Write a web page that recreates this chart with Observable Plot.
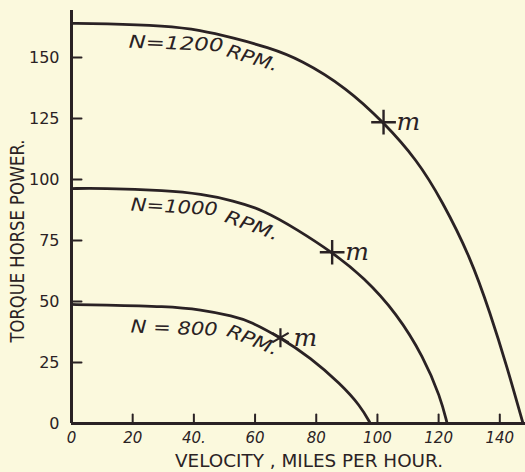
<!DOCTYPE html>
<html><head><meta charset="utf-8">
<script src="https://cdn.jsdelivr.net/npm/d3@7"></script>
<script src="https://cdn.jsdelivr.net/npm/@observablehq/plot@0.6"></script>
<style>
html,body{margin:0;padding:0;background:#fbf9dd;}
#chart{width:525px;height:472px;position:relative;}
</style></head><body><div id="chart"></div>
<script>
// ---- data ----
const velocity1200 = [0, 10, 31, 42, 53, 64, 75, 90, 102, 113, 121.1, 130.4, 136.9, 142.4, 147.6];
const power1200    = [164, 164, 163, 161.3, 158, 154.3, 149.2, 137.5, 123.5, 108, 91.4, 68.2, 45.1, 23.1, 0];
const velocity1000 = [0, 9.5, 31.3, 42.2, 52.9, 62.7, 73.8, 85.2, 95.5, 106.4, 115.1, 120.6, 122.8];
const power1000    = [96.3, 96.5, 95.5, 94.1, 91.4, 87.5, 79.5, 70.2, 60, 45, 27.2, 10.8, 0];
const velocity800  = [0, 9.5, 31.3, 42.2, 52.9, 58.5, 68.3, 78.1, 87.9, 94.4, 97.7];
const power800     = [48.8, 48.6, 48, 46.7, 44.0, 41.8, 35.2, 27, 16.3, 7.3, 0];
const markerRpm    = [1200, 1000, 800];
const markerVel    = [102, 85.2, 68.3];
const markerPow    = [123.5, 70.2, 35.2];
const markerText   = ["m", "m", "m"];
const xTicks = [0, 20, 40, 60, 80, 100, 120, 140];
const xTickLabels = ["0", "20", "40.", "60", "80", "100", "120", "140"];
const yTicks = [0, 25, 50, 75, 100, 125, 150];
const yTickLabels = ["0", "25", "50", "75", "100", "125", "150"];
const labelText = ["N=1200", "RPM.", "N=1000", "RPM.", "N = 800", "RPM."];
const labelVel  = [18.6, 50.3, 19.3, 49.7, 19.3, 50.3];
const labelPow  = [154, 150.6, 87.3, 82.8, 37.3, 36.1];
const xTitle = "VELOCITY , MILES PER HOUR.";
const yTitle = "TORQUE HORSE POWER.";

// ---- build tables ----
const curves = [
  ...velocity1200.map((v, i) => ({rpm: 1200, v, p: power1200[i]})),
  ...velocity1000.map((v, i) => ({rpm: 1000, v, p: power1000[i]})),
  ...velocity800.map((v, i) => ({rpm: 800, v, p: power800[i]}))
];
const markers = markerRpm.map((r, i) => ({rpm: r, v: markerVel[i], p: markerPow[i], t: markerText[i]}));
const labelRot = [2, 17, 3, 20, 2, 22];
const labelLen = [95, 53, 87, 56, 87, 54];
const labels = labelText.map((t, i) => ({t, v: labelVel[i], p: labelPow[i], rot: labelRot[i], len: labelLen[i]}));

const ink = "#2a2224";
const W = 525, H = 472, ML = 71, MR = 0, MT = 10, MB = 49;
const xMax = 148.4, yMax = 169.3;
// inward tick lengths: pixels converted to data units
const xTickLen = 9 * yMax / (H - MT - MB);
const yTickLen = 10 * xMax / (W - ML - MR);
// each tick as a tiny two-point segment
const tickSegs = [
  ...xTicks.filter(d => d > 0).flatMap(d => [{k: "x" + d, v: d, p: 0}, {k: "x" + d, v: d, p: xTickLen}]),
  ...yTicks.filter(d => d > 0).flatMap(d => [{k: "y" + d, v: 0, p: d}, {k: "y" + d, v: yTickLen, p: d}])
];

const chart = Plot.plot({
  width: W, height: H,
  marginLeft: ML, marginRight: MR, marginTop: MT, marginBottom: MB,
  style: {background: "transparent", color: ink, fontFamily: "DejaVu Sans"},
  x: {domain: [0, xMax], axis: null},
  y: {domain: [0, yMax], axis: null},
  marks: [
    Plot.axisX({ticks: xTicks, tickSize: 0, tickPadding: 9, fill: ink,
      tickFormat: d => xTickLabels[xTicks.indexOf(d)], fontSize: 15, fontStyle: "italic", label: null}),
    Plot.axisY({ticks: yTicks, tickSize: 0, tickPadding: 12, fill: ink,
      tickFormat: d => yTickLabels[yTicks.indexOf(d)], fontSize: 16, label: null}),
    Plot.ruleX([0], {stroke: ink, strokeWidth: 3}),
    Plot.ruleY([0], {stroke: ink, strokeWidth: 3}),
    Plot.line(tickSegs, {x: "v", y: "p", z: "k", stroke: ink, strokeWidth: 2}),
    Plot.line(curves, {x: "v", y: "p", z: "rpm", curve: "basis", stroke: ink, strokeWidth: 2.8}),
    Plot.dot(markers.filter(d => d.rpm !== 800), {x: "v", y: "p", symbol: "plus", r: 8, stroke: ink, strokeWidth: 2.4}),
    Plot.dot(markers.filter(d => d.rpm === 800), {x: "v", y: "p", symbol: "asterisk", r: 9, stroke: ink, strokeWidth: 2.2}),
    Plot.text(markers, {x: "v", y: "p", text: "t", dx: 13, textAnchor: "start", fontSize: 25,
      fontStyle: "italic", fontFamily: "DejaVu Serif", fill: ink}),
    Plot.text(labels, {x: "v", y: "p", text: "t", rotate: "rot", textAnchor: "start", lineAnchor: "bottom",
      fontSize: 18, fontStyle: "italic", fill: ink})
  ]
});
document.getElementById("chart").appendChild(chart);
const svg = d3.select(chart);

// stretch the hand-lettered labels to their measured widths
const textLabels = svg.selectAll("text").filter(function () { return labelText.includes(this.textContent); }).nodes();
textLabels.forEach((node, i) => {
  const lab = labels[i];
  if (lab) { node.setAttribute("textLength", lab.len); node.setAttribute("lengthAdjust", "spacingAndGlyphs"); }
});

// axis titles
svg.append("text").text(xTitle)
  .attr("x", 309).attr("y", 467).attr("text-anchor", "middle")
  .attr("font-size", 18).attr("fill", ink)
  .attr("textLength", 268).attr("lengthAdjust", "spacingAndGlyphs");
svg.append("text").text(yTitle)
  .attr("transform", "translate(24,241) rotate(-90)").attr("text-anchor", "middle")
  .attr("font-size", 20).attr("fill", ink)
  .attr("textLength", 203).attr("lengthAdjust", "spacingAndGlyphs");
</script></body></html>
